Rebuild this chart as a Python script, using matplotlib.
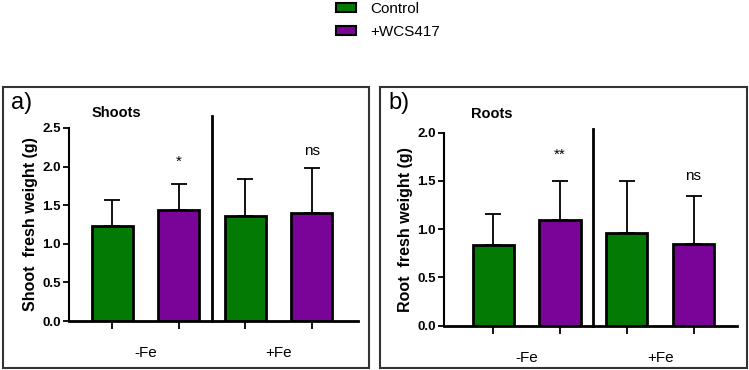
import matplotlib.pyplot as plt
from matplotlib.patches import Rectangle, Patch
import numpy as np

plt.rcParams['font.family'] = ['Liberation Sans', 'DejaVu Sans']

# data
groups = ['-Fe', '+Fe']
series = ['Control', '+WCS417']
colors = ['#037a03', '#7a0497']

shoot_mean = [1.23, 1.44, 1.36, 1.40]
shoot_err = [0.34, 0.33, 0.48, 0.58]
shoot_sig = ['*', 'ns']

root_mean = [0.84, 1.10, 0.96, 0.85]
root_err = [0.32, 0.40, 0.54, 0.49]
root_sig = ['**', 'ns']

fig = plt.figure(figsize=(7.49, 3.70), dpi=100)


def panel(rect, means, errs, sigs, ymax, ytop_div, ylabel, sig_y, xlim):
    ax = fig.add_axes(rect)
    x = np.arange(len(means))
    cols = [colors[i % 2] for i in range(len(means))]
    ax.bar(x, means, width=0.62, color=cols, edgecolor='black', linewidth=2, zorder=2)
    ax.errorbar(x, means, yerr=[np.zeros(len(errs)), errs], fmt='none', ecolor='black',
                elinewidth=1.3, capsize=5.5, capthick=1.3, zorder=1)
    ax.set_xlim(*xlim)
    ax.set_ylim(0, ymax)
    ticks = np.arange(0, ymax + 0.01, 0.5)
    ax.set_yticks(ticks)
    ax.set_yticklabels(['%.1f' % v for v in ticks], fontsize=9.5, fontweight='bold')
    ax.set_xticks(x)
    ax.set_xticklabels([])
    ax.tick_params(axis='x', length=6, width=1.3, direction='out')
    ax.tick_params(axis='y', length=4, width=1.3, direction='out', pad=2)
    for s in ['top', 'right']:
        ax.spines[s].set_visible(False)
    ax.spines['left'].set_linewidth(1.5)
    ax.spines['bottom'].set_linewidth(2)
    ax.plot([1.5, 1.5], [0, ytop_div], color='black', lw=2, clip_on=False)
    for g, name in enumerate(groups):
        ax.text(2 * g + 0.5, -0.165 * ymax, name, ha='center', va='center', fontsize=11)
    ax.text(1, sig_y[0], sigs[0], ha='center', va='center', fontsize=11)
    ax.text(3, sig_y[1], sigs[1], ha='center', va='center', fontsize=11)
    ax.set_ylabel(ylabel, fontsize=11.5, fontweight='bold', labelpad=3)
    return ax


axa = panel([0.0921, 0.1324, 0.386, 0.522], shoot_mean, shoot_err, shoot_sig, 2.5, 2.66,
            'Shoot  fresh weight (g)', [2.06, 2.2], (-0.65, 3.7))
axb = panel([0.5928, 0.1197, 0.391, 0.5217], root_mean, root_err, root_sig, 2.0, 2.04,
            'Root  fresh weight (g)', [1.77, 1.55], (-0.74, 3.65))

# panel frames
fig.patches.append(Rectangle((3 / 749, 1 - 368 / 370), 366 / 749, 281 / 370,
                             transform=fig.transFigure, fill=False, lw=1.5, ec='#333333'))
fig.patches.append(Rectangle((380 / 749, 1 - 368 / 370), 367 / 749, 281 / 370,
                             transform=fig.transFigure, fill=False, lw=1.5, ec='#333333'))

fig.text(11 / 749, 1 - 103 / 370, 'a)', fontsize=17, va='center')
fig.text(92 / 749, 1 - 113 / 370, 'Shoots', fontsize=10.5, fontweight='bold', va='center')
fig.text(388 / 749, 1 - 103 / 370, 'b)', fontsize=17, va='center')
fig.text(471 / 749, 1 - 114 / 370, 'Roots', fontsize=10.5, fontweight='bold', va='center')

handles = [Patch(facecolor=c, edgecolor='black', linewidth=1.5) for c in colors]
fig.legend(handles, series, loc='upper left', bbox_to_anchor=(322 / 749, 1.032),
           frameon=False, fontsize=11, handlelength=1.35, handleheight=0.55,
           labelspacing=0.6, handletextpad=0.9)

fig.savefig('out.png', dpi=100)
